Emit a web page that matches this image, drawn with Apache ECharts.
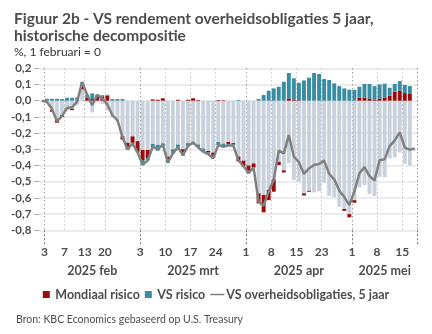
<!DOCTYPE html>
<html>
<head>
<meta charset="utf-8">
<script src="https://cdn.jsdelivr.net/npm/echarts@6/dist/echarts.min.js"></script>
<style>
  html, body { margin: 0; padding: 0; background: #fff; }
  #chart { width: 432px; height: 334px; }
</style>
</head>
<body>
<div id="chart"></div>
<script>
// Trading days (US Treasury market), 31 Jan = base date
const tradingDays = [
  '2025-01-31',
  '2025-02-03','2025-02-04','2025-02-05','2025-02-06','2025-02-07','2025-02-10','2025-02-11','2025-02-12','2025-02-13','2025-02-14',
  '2025-02-18','2025-02-19','2025-02-20','2025-02-21','2025-02-24','2025-02-25','2025-02-26','2025-02-27','2025-02-28',
  '2025-03-03','2025-03-04','2025-03-05','2025-03-06','2025-03-07','2025-03-10','2025-03-11','2025-03-12','2025-03-13','2025-03-14',
  '2025-03-17','2025-03-18','2025-03-19','2025-03-20','2025-03-21','2025-03-24','2025-03-25','2025-03-26','2025-03-27','2025-03-28','2025-03-31',
  '2025-04-01','2025-04-02','2025-04-03','2025-04-04','2025-04-07','2025-04-08','2025-04-09','2025-04-10','2025-04-11','2025-04-14',
  '2025-04-15','2025-04-16','2025-04-17','2025-04-21','2025-04-22','2025-04-23','2025-04-24','2025-04-25','2025-04-28','2025-04-29','2025-04-30',
  '2025-05-01','2025-05-02','2025-05-05','2025-05-06','2025-05-07','2025-05-08','2025-05-09','2025-05-12','2025-05-13','2025-05-14',
  '2025-05-15','2025-05-16','2025-05-19'
];

// Residual component (no legend entry)
const overig = [
  null,
  -0.018,-0.058,-0.120,-0.088,-0.060,-0.050,-0.025, 0.070,-0.005,-0.072,
  -0.004,-0.020,-0.060,-0.100,-0.130,-0.220,-0.260,-0.220,-0.250,
  -0.304,-0.304,-0.267,-0.273,-0.263,-0.345,-0.300,-0.270,-0.300,-0.262,
  -0.255,-0.270,-0.295,-0.310,-0.320,-0.255,-0.265,-0.255,-0.262,-0.345,-0.370,
  -0.400,-0.387,-0.572,-0.582,-0.551,-0.485,-0.377,-0.430,-0.385,-0.490,
  -0.500,-0.572,-0.556,-0.567,-0.560,-0.506,-0.587,-0.597,-0.655,-0.668,-0.700,
  -0.614,-0.535,-0.520,-0.575,-0.588,-0.470,-0.473,-0.356,-0.350,-0.320,
  -0.390,-0.400, null
];

// Mondiaal risico
const mondiaalRisico = [
  null,
   0.000,-0.010,-0.016,-0.012, 0.000,-0.008, 0.000, 0.030, 0.018, 0.010,
   0.031, 0.027, 0.031, 0.000, 0.000,-0.020,-0.028,-0.040,-0.065,
  -0.062,-0.050, 0.008, 0.006, 0.015,-0.015, 0.000, 0.006,-0.020, 0.006,
   0.015, 0.004, 0.000,-0.010,-0.020, 0.004, 0.003,-0.012,-0.006,-0.030,-0.035,
  -0.035,-0.025,-0.062,-0.107,-0.063,-0.077,-0.020,-0.013, 0.014, 0.008,
   0.003,-0.013,-0.006, 0.000, 0.000, 0.000, 0.000, 0.000, 0.000,-0.012,-0.020,
  -0.016, 0.018, 0.020, 0.014, 0.008, 0.014, 0.020, 0.030, 0.055, 0.062,
   0.047, 0.045, null
];

// VS risico
const vsRisico = [
  null,
   0.012, 0.012, 0.012, 0.010, 0.018, 0.018, 0.020, 0.015, 0.020, 0.035,
   0.008, 0.007, 0.006, 0.010, 0.010, 0.010,-0.016,-0.010,-0.005,
  -0.031,-0.015,-0.021,-0.035,-0.021,-0.025,-0.025,-0.020,-0.020,-0.020,
  -0.015,-0.018,-0.015,-0.010,-0.012,-0.020,-0.018,-0.008,-0.006, 0.005, 0.000,
  -0.015, 0.000, 0.010, 0.035, 0.062, 0.076, 0.086, 0.117, 0.157, 0.130,
   0.108, 0.125, 0.142, 0.171, 0.165, 0.134, 0.128, 0.107, 0.090, 0.076, 0.068,
   0.068, 0.068, 0.083, 0.089, 0.082, 0.086, 0.085, 0.050, 0.048, 0.059,
   0.050, 0.045, null
];

// VS overheidsobligaties, 5 jaar (change since 1 Feb, %-points)
const rendement5j = [
   0.000,
  -0.006,-0.050,-0.127,-0.095,-0.045,-0.041,-0.006, 0.115, 0.035,-0.027,
   0.035, 0.014,-0.023,-0.090,-0.120,-0.225,-0.300,-0.265,-0.318,
  -0.395,-0.370,-0.284,-0.300,-0.273,-0.380,-0.325,-0.288,-0.335,-0.280,
  -0.258,-0.288,-0.315,-0.330,-0.356,-0.274,-0.285,-0.275,-0.278,-0.368,-0.405,
  -0.445,-0.412,-0.624,-0.648,-0.560,-0.490,-0.308,-0.325,-0.212,-0.346,
  -0.380,-0.452,-0.418,-0.397,-0.390,-0.370,-0.452,-0.485,-0.555,-0.595,-0.645,
  -0.560,-0.448,-0.410,-0.465,-0.493,-0.368,-0.362,-0.280,-0.245,-0.195,
  -0.290,-0.302,-0.295
];

// Labelled days on the time axis, month starts drawn darker
const tickDays = ['2025-02-03','2025-02-07','2025-02-13','2025-02-20','2025-03-03','2025-03-10','2025-03-17','2025-03-24',
                  '2025-04-01','2025-04-08','2025-04-15','2025-04-23','2025-05-01','2025-05-08','2025-05-15'];
const monthStarts = ['2025-02-03','2025-03-03','2025-04-01','2025-05-01'];
const monthLabels = ['2025 feb','2025 mrt','2025 apr','2025 mei'];
const monthLabelDays = ['2025-02-14','2025-03-17','2025-04-15','2025-05-09'];

const yTicks = { min: -0.8, max: 0.2, step: 0.1 };

const tickIdx = tickDays.map(d => tradingDays.indexOf(d));
const monthIdx = monthStarts.map(d => tradingDays.indexOf(d));
const monthLabelIdx = monthLabelDays.map(d => tradingDays.indexOf(d));
const minorIdx = tickIdx.filter(i => !monthIdx.includes(i));

const FONT = 'Lato';
const TXT = '#4d4d4d';
const RED = '#9a0b0b';
const TEAL = '#3a8ca3';
const GREY = '#c9d2dc';
const LINE = '#808080';

const chart = echarts.init(document.getElementById('chart'), null, { renderer: 'canvas' });

chart.setOption({
  animation: false,
  textStyle: { fontFamily: FONT },
  title: [
    {
      text: 'Figuur 2b - VS rendement overheidsobligaties 5 jaar,\nhistorische decompositie',
      subtext: '%, 1 februari = 0',
      left: 9, top: 5, itemGap: 1,
      textStyle: { fontFamily: FONT, fontSize: 15.5, fontWeight: 'bold', color: TXT, lineHeight: 17 },
      subtextStyle: { fontFamily: FONT, fontSize: 12, color: '#333', lineHeight: 14 }
    },
    {
      text: 'Bron: KBC Economics gebaseerd op U.S. Treasury',
      left: 11, top: 309,
      textStyle: { fontFamily: FONT, fontSize: 10.5, fontWeight: 'normal', color: TXT }
    }
  ],
  legend: {
    top: 283, left: 'center',
    itemWidth: 14, itemHeight: 7, itemGap: 5,
    textStyle: { fontFamily: FONT, fontSize: 12.5, fontWeight: 'bold', color: TXT, padding: [0, 0, 0, -3] },
    data: [
      { name: 'Mondiaal risico', icon: 'path://M0,0H10V10H0Z' },
      { name: 'VS risico', icon: 'path://M0,0H10V10H0Z' },
      { name: 'VS overheidsobligaties, 5 jaar', icon: 'path://M0,0H28V3H0Z' }
    ]
  },
  grid: { left: 39.3, right: 14.6, top: 68.3, bottom: 103.7, containLabel: false },
  xAxis: [
    {
      type: 'category',
      data: tradingDays,
      boundaryGap: true,
      axisLine: { show: false },
      axisTick: {
        show: true, length: 14,
        interval: (i) => minorIdx.includes(i),
        lineStyle: { color: '#aaaaaa', type: [1, 3], width: 1 }
      },
      axisLabel: {
        interval: (i) => tickIdx.includes(i),
        formatter: (v) => String(Number(v.slice(8))),
        margin: 16, padding: [0, 5, 0, 0],
        fontFamily: FONT, fontSize: 12, fontWeight: 'bold', color: TXT
      },
      splitLine: {
        show: true,
        interval: (i) => minorIdx.includes(i),
        lineStyle: { color: '#b0b0b0', type: [1, 3], width: 1 }
      }
    },
    {
      type: 'category',
      data: tradingDays,
      boundaryGap: true,
      position: 'bottom',
      axisLine: { show: false },
      axisTick: {
        show: true, length: 15,
        interval: (i) => monthIdx.includes(i),
        lineStyle: { color: '#777777', type: [2, 2], width: 1 }
      },
      axisLabel: {
        interval: (i) => monthLabelIdx.includes(i),
        formatter: (v, i) => monthLabels[monthLabelIdx.indexOf(i)] || '',
        margin: 34,
        fontFamily: FONT, fontSize: 12.5, fontWeight: 'bold', color: TXT
      },
      splitLine: {
        show: true,
        interval: (i) => monthIdx.includes(i),
        lineStyle: { color: '#777777', type: [1, 3], width: 1 }
      }
    }
  ],
  yAxis: {
    type: 'value',
    min: yTicks.min, max: yTicks.max, interval: yTicks.step,
    axisLine: { show: false },
    axisTick: { show: true, length: 5, lineStyle: { color: '#aaaaaa' } },
    axisLabel: {
      margin: 8,
      formatter: (v) => (Math.round(v * 10) / 10).toFixed(1).replace('.', ','),
      fontFamily: FONT, fontSize: 11.5, fontWeight: 'bold', color: TXT
    },
    splitLine: { show: true, lineStyle: { color: '#e6e6e6', width: 1.5 } }
  },
  series: [
    {
      name: 'Overig', type: 'bar', stack: 'ontleding', xAxisIndex: 0,
      data: overig, barCategoryGap: '22%',
      itemStyle: { color: GREY }
    },
    {
      name: 'Mondiaal risico', type: 'bar', stack: 'ontleding', xAxisIndex: 0,
      data: mondiaalRisico,
      itemStyle: { color: RED }
    },
    {
      name: 'VS risico', type: 'bar', stack: 'ontleding', xAxisIndex: 0,
      data: vsRisico,
      itemStyle: { color: TEAL }
    },
    {
      name: 'VS overheidsobligaties, 5 jaar', type: 'line', xAxisIndex: 0,
      data: rendement5j, symbol: 'none', showSymbol: false, z: 5,
      lineStyle: { color: LINE, width: 2.5 },
      itemStyle: { color: LINE }
    }
  ]
});
</script>
</body>
</html>
